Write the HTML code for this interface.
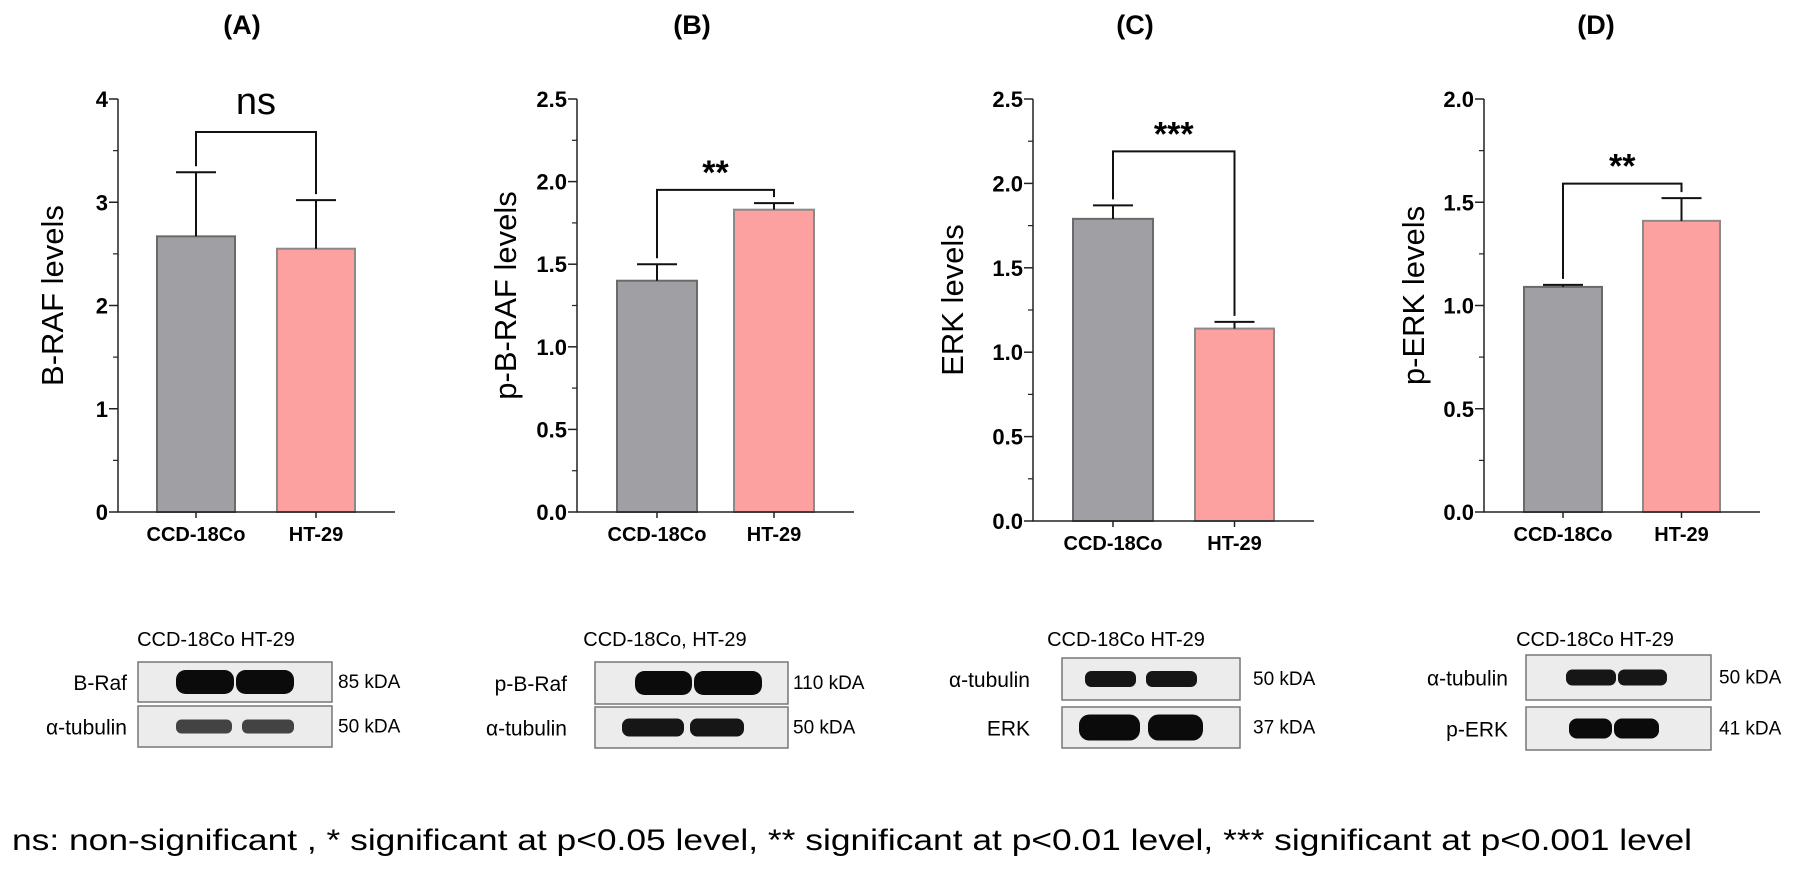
<!DOCTYPE html>
<html><head><meta charset="utf-8">
<style>
html,body{margin:0;padding:0;background:#fff;}
svg{display:block;font-family:"Liberation Sans",sans-serif;}
</style></head>
<body>
<svg id="fig" width="1801" height="874" viewBox="0 0 1801 874" xmlns="http://www.w3.org/2000/svg">
<text x="12" y="850" font-size="30" textLength="1680" lengthAdjust="spacingAndGlyphs" fill="#000">ns: non-significant , * significant at p&lt;0.05 level, ** significant at p&lt;0.01 level, *** significant at p&lt;0.001 level</text>
</svg>
<script>
const categories = ["CCD-18Co", "HT-29"];
const panelTitles = ["(A)", "(B)", "(C)", "(D)"];
const yLabels = ["B-RAF levels", "p-B-RAF levels", "ERK levels", "p-ERK levels"];
const meansA = [2.67, 2.55];
const errA = [3.29, 3.02];
const meansB = [1.40, 1.83];
const errB = [1.50, 1.87];
const meansC = [1.79, 1.14];
const errC = [1.87, 1.18];
const meansD = [1.09, 1.41];
const errD = [1.10, 1.52];
const yMax = [4, 2.5, 2.5, 2.0];
const tickLabelsA = ["0", "1", "2", "3", "4"];
const tickLabelsB = ["0.0", "0.5", "1.0", "1.5", "2.0", "2.5"];
const tickLabelsC = ["0.0", "0.5", "1.0", "1.5", "2.0", "2.5"];
const tickLabelsD = ["0.0", "0.5", "1.0", "1.5", "2.0"];
const sigLabels = ["ns", "**", "***", "**"];
const bracketLevel = [3.68, 1.95, 2.19, 1.59];

const NS = "http://www.w3.org/2000/svg";
const svg = document.getElementById("fig");
function mk(tag, attrs, parent, text){
  const e = document.createElementNS(NS, tag);
  for (const k in attrs) e.setAttribute(k, attrs[k]);
  if (text !== undefined) e.textContent = text;
  (parent || svg).appendChild(e);
  return e;
}

const layout = [
  {ax:118, top:99, bot:512, xend:395, bars:[[157,235],[277,355]], title:242, ylab:52},
  {ax:577, top:99, bot:512, xend:854, bars:[[617,697],[734,814]], title:692, ylab:505},
  {ax:1033, top:99, bot:521, xend:1314, bars:[[1073,1153],[1195,1274]], title:1135, ylab:952},
  {ax:1484, top:99, bot:512, xend:1760, bars:[[1524,1602],[1643,1720]], title:1596, ylab:1413}
];
const means = [meansA, meansB, meansC, meansD];
const errs = [errA, errB, errC, errD];
const ticks = [tickLabelsA, tickLabelsB, tickLabelsC, tickLabelsD];
const fills = ["#a09fa4", "#fda0a0"];
const strokes = ["#6a6a6a", "#8a8a8a"];

layout.forEach((L, p) => {
  const g = mk("g", {});
  
  
  const y = v => L.bot - v / yMax[p] * (L.bot - L.top);
  const t = mk("text", {x:L.title, y:34, "font-size":27, "font-weight":"bold", "text-anchor":"middle"}, g, panelTitles[p]);
  
  
  const yl = mk("text", {x:0, y:0, "font-size":31, "text-anchor":"middle", transform:`translate(${L.ylab + 11},${(L.top+L.bot)/2 - 10}) rotate(-90)`}, g, yLabels[p]);
  
  
  means[p].forEach((m, i) => {
    const [x0, x1] = L.bars[i];
    const cx = (x0 + x1) / 2;
    const b = mk("rect", {x:x0, y:y(m), width:x1-x0, height:L.bot - y(m), fill:fills[i], stroke:strokes[i], "stroke-width":2}, g);
    
    
    const e = mk("path", {d:`M${cx},${y(m)}V${y(errs[p][i])}M${cx-20},${y(errs[p][i])}H${cx+20}`, stroke:"#111", "stroke-width":2, fill:"none"}, g);
    
    
    const c = mk("text", {x:cx, y:L.bot + 29, "font-size":20, "font-weight":"bold", "text-anchor":"middle"}, g, categories[i]);
    
    
    mk("line", {x1:cx, x2:cx, y1:L.bot, y2:L.bot+6, stroke:"#222", "stroke-width":1.5}, g);
  });
  const ax = mk("path", {d:`M${L.ax},${L.top}V${L.bot}H${L.xend}`, stroke:"#222", "stroke-width":1.5, fill:"none"}, g);
  
  
  const n = ticks[p].length - 1;
  for (let k = 0; k <= n; k++) {
    const v = yMax[p] * k / n;
    mk("line", {x1:L.ax-9, x2:L.ax, y1:y(v), y2:y(v), stroke:"#222", "stroke-width":1.5}, g);
    const tl = mk("text", {x:L.ax-10, y:y(v)+8, "font-size":22, "font-weight":"bold", "text-anchor":"end"}, g, ticks[p][k]);
    
    
    if (k < n) {
      const vm = v + yMax[p] / n / 2;
      mk("line", {x1:L.ax-5, x2:L.ax, y1:y(vm), y2:y(vm), stroke:"#222", "stroke-width":1.2}, g);
    }
  }
  const c0 = (L.bars[0][0] + L.bars[0][1]) / 2, c1 = (L.bars[1][0] + L.bars[1][1]) / 2;
  const yb = y(bracketLevel[p]);
  const e0 = y(errs[p][0]) - 6, e1 = y(errs[p][1]) - 6;
  const br = mk("path", {d:`M${c0},${e0}V${yb}H${c1}V${e1}`, stroke:"#111", "stroke-width":2, fill:"none"}, g);
  
  
  const isNs = sigLabels[p] === "ns";
  const s = mk("text", {x:(c0+c1)/2, y: isNs ? yb - 18 : yb - 6, "font-size": isNs ? 38 : 34, "font-weight": isNs ? "normal" : "bold", "text-anchor":"middle"}, g, sigLabels[p]);
  
  
});

const blots = [
  {hx:216, hy:646, header:"CCD-18Co   HT-29", box:[138,332], rows:[[662,702],[706,747]], names:["B-Raf","α-tubulin"], kda:["85 kDA","50 kDA"], lx:127, kx:338,
   bands:[[[176,234],[236,294],24,1],[[176,232],[242,294],14,0.75]]},
  {hx:665, hy:646, header:"CCD-18Co,  HT-29", box:[595,788], rows:[[662,704],[707,748]], names:["p-B-Raf","α-tubulin"], kda:["110 kDA","50 kDA"], lx:567, kx:793,
   bands:[[[635,692],[694,762],24,1],[[622,684],[690,744],18,0.95]]},
  {hx:1126, hy:646, header:"CCD-18Co  HT-29", box:[1062,1240], rows:[[658,700],[707,748]], names:["α-tubulin","ERK"], kda:["50 kDA","37 kDA"], lx:1030, kx:1253,
   bands:[[[1085,1136],[1146,1197],16,0.95],[[1079,1140],[1148,1203],26,1]]},
  {hx:1595, hy:646, header:"CCD-18Co  HT-29", box:[1526,1711], rows:[[655,700],[707,750]], names:["α-tubulin","p-ERK"], kda:["50 kDA","41 kDA"], lx:1508, kx:1719,
   bands:[[[1566,1616],[1618,1667],16,0.95],[[1569,1612],[1614,1659],20,1]]}
];
blots.forEach((B, bi) => {
  const g = mk("g", {});
  
  
  const h = mk("text", {x:B.hx, y:B.hy, "font-size":20, "text-anchor":"middle"}, g, B.header);
  
  
  B.rows.forEach((r, ri) => {
    const box = mk("rect", {x:B.box[0], y:r[0], width:B.box[1]-B.box[0], height:r[1]-r[0], fill:"#ececec", stroke:"#777", "stroke-width":1.5}, g);
    
    
    const cy = (r[0] + r[1]) / 2;
    const bd = B.bands[ri];
    [bd[0], bd[1]].forEach(xx => {
      const band = mk("rect", {x:xx[0], y:cy - bd[2]/2, width:xx[1]-xx[0], height:bd[2], rx:bd[2]/2.5, fill:"#0b0b0b", opacity:bd[3]}, g);
      
      
    });
    const nm = mk("text", {x:B.lx, y:cy+8, "font-size":21, "text-anchor":"end"}, g, B.names[ri]);
    
    
    const kd = mk("text", {x:B.kx, y:cy+6, "font-size":19}, g, B.kda[ri]);
    
    
  });
});
</script>
</body></html>
